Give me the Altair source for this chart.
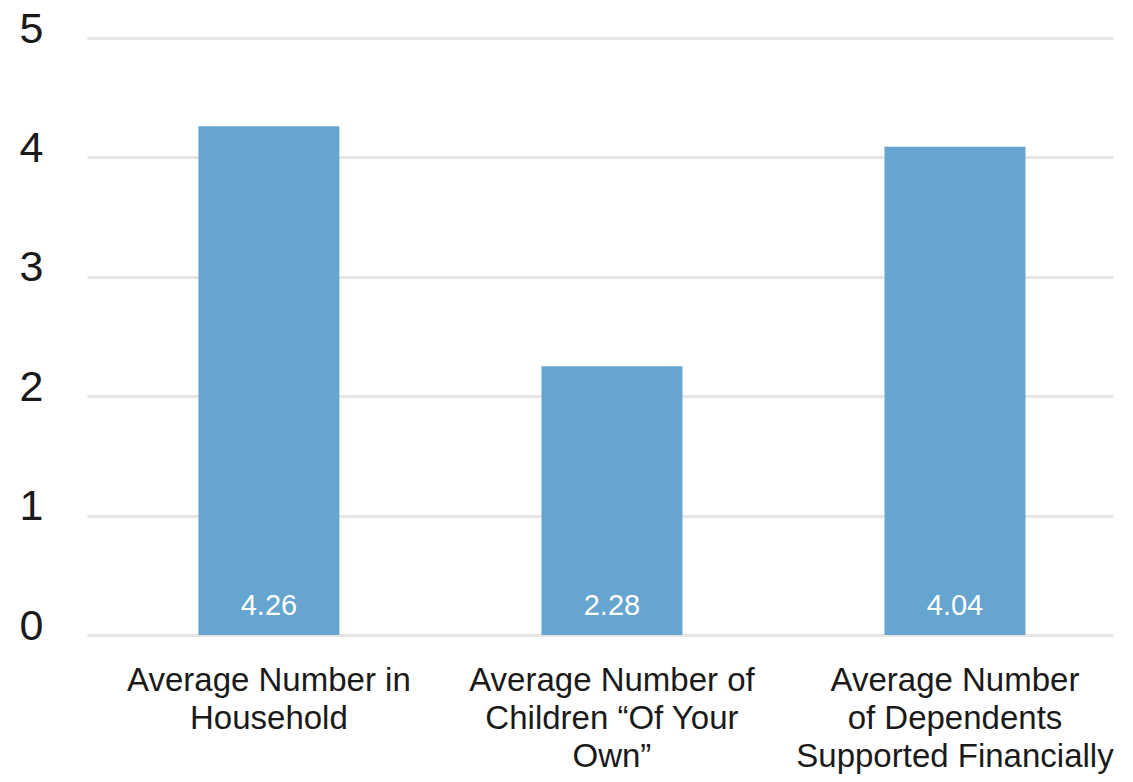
import altair as alt
import pandas as pd

categories = [
    "Average Number in|Household",
    "Average Number of|Children \u201cOf Your|Own\u201d",
    "Average Number|of Dependents|Supported Financially",
]
bar_heights = [4.26, 2.25, 4.09]
value_labels = ["4.26", "2.28", "4.04"]
y_ticks = [0, 1, 2, 3, 4, 5]

df = pd.DataFrame({"category": categories, "value": bar_heights, "label": value_labels})

FONT = "Liberation Sans"
BAR = "#65a5cf"

x = alt.X(
    "category:N",
    sort=categories,
    scale=alt.Scale(paddingInner=0.589, paddingOuter=0.29, align=0.56),
    axis=alt.Axis(
        title=None,
        labelAngle=0,
        labelExpr="split(datum.label, '|')",
        labelFont=FONT,
        labelFontSize=33,
        labelLineHeight=38,
        labelColor="#1a1a1a",
        labelPadding=29,
        labelBaseline="top",
        labelLimit=400,
        grid=False,
        domain=False,
        ticks=False,
    ),
)

bars = alt.Chart(df).mark_bar(color=BAR).encode(
    x=x,
    y=alt.Y(
        "value:Q",
        scale=alt.Scale(domain=[0, 5], nice=False),
        axis=alt.Axis(
            title=None,
            values=y_ticks,
            format="d",
            labelFont=FONT,
            labelFontSize=43,
            labelColor="#1a1a1a",
            labelPadding=44,
            labelBaseline="alphabetic",
            labelOffset=4,
            grid=True,
            gridColor="#e6e6e6",
            gridWidth=3,
            domain=False,
            ticks=False,
        ),
    ),
)

texts = alt.Chart(df).mark_text(
    color="white", font=FONT, fontSize=29, baseline="alphabetic", dy=-20
).encode(
    x=alt.X("category:N", sort=categories),
    y=alt.datum(0),
    text="label:N",
)

chart = (
    alt.layer(bars, texts)
    .properties(
        width=1026,
        height=597,
        background="white",
        autosize=alt.AutoSizeParams(type="none"),
        padding={"left": 87, "top": 38, "right": 20, "bottom": 147},
    )
    .configure_view(stroke="transparent", strokeWidth=0)
)

chart.save("out.html", embed_options={"renderer": "svg", "actions": False})
